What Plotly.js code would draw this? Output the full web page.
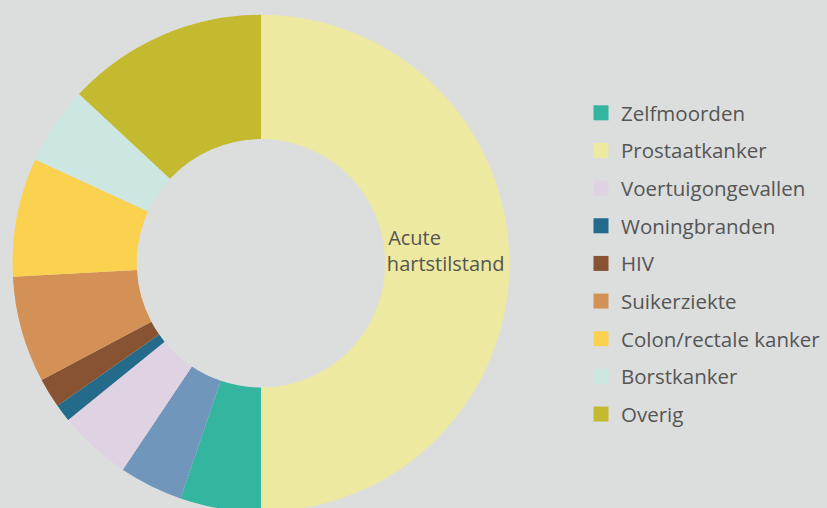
<!DOCTYPE html>
<html>
<head>
<meta charset="utf-8">
<script src="https://cdn.plot.ly/plotly-3.0.1.min.js"></script>
<style>
html, body { margin: 0; padding: 0; overflow: hidden; background: #dcdedd; }
#chart { width: 827px; height: 520px; }
</style>
</head>
<body>
<div id="chart"></div>
<script>
// Slice data (percent share), in drawing order, clockwise from 12 o'clock
const sliceLabels = ["Acute hartstilstand", "Zelfmoorden", "Prostaatkanker", "Voertuigongevallen",
  "Woningbranden", "HIV", "Suikerziekte", "Colon/rectale kanker", "Borstkanker", "Overig"];
const sliceValues = [50, 5.25, 4.14, 4.75, 1.14, 1.94, 6.92, 7.72, 5.06, 13.08];
const sliceColors = ["#ede9a0", "#33b59f", "#7196bc", "#dfd3e3", "#236a8b",
  "#875332", "#d39155", "#fbd150", "#cce6e1", "#c4ba2f"];
const sliceText = ["Acute" + "\u00a0".repeat(12) + "<br>hartstilstand<br>\u00a0", "", "", "", "", "", "", "", "", ""];

// Legend entries as shown in the reference
const legendLabels = ["Zelfmoorden", "Prostaatkanker", "Voertuigongevallen", "Woningbranden",
  "HIV", "Suikerziekte", "Colon/rectale kanker", "Borstkanker", "Overig"];
const legendColors = ["#33b59f", "#ede9a0", "#dfd3e3", "#236a8b",
  "#875332", "#d39155", "#fbd150", "#cce6e1", "#c4ba2f"];

const W = 827, H = 520;
const cx = 261, cy = 263.3, R = 248.5;

const traces = [{
  type: "pie",
  labels: sliceLabels,
  values: sliceValues,
  text: sliceText,
  textinfo: "text",
  textposition: "inside",
  insidetextorientation: "horizontal",
  insidetextfont: { family: "Open Sans, sans-serif", size: 20, color: "#555555" },
  marker: { colors: sliceColors, line: { width: 0 } },
  hole: 0.5,
  sort: false,
  direction: "clockwise",
  rotation: 0,
  showlegend: false,
  hoverinfo: "none",
  domain: { x: [(cx - R) / W, (cx + R) / W], y: [1 - (cy + R) / H, 1 - (cy - R) / H] }
}];

legendLabels.forEach((name, i) => {
  traces.push({
    type: "scatter",
    mode: "markers",
    x: [null], y: [null],
    name: name,
    legendgroup: "g" + i,
    marker: { symbol: "square", size: 15, color: legendColors[i] },
    hoverinfo: "none"
  });
});

const layout = {
  width: W, height: H,
  margin: { l: 0, r: 0, t: 0, b: 0 },
  paper_bgcolor: "#dcdedd",
  plot_bgcolor: "#dcdedd",
  xaxis: { visible: false },
  yaxis: { visible: false },
  showlegend: true,
  legend: {
    x: 581 / W, xanchor: "left",
    y: 1 - 93 / H, yanchor: "top",
    traceorder: "grouped",
    tracegroupgap: 8,
    bgcolor: "rgba(0,0,0,0)",
    font: { family: "Open Sans, sans-serif", size: 20.5, color: "#555555" }
  }
};

Plotly.newPlot("chart", traces, layout, { displayModeBar: false, staticPlot: true });
</script>
</body>
</html>
